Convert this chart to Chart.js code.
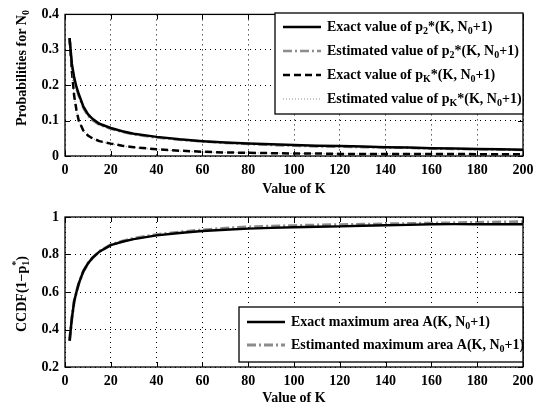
<!DOCTYPE html>
<html>
<head>
<meta charset="utf-8">
<script src="https://cdn.jsdelivr.net/npm/chart.js@4/dist/chart.umd.min.js"></script>
<style>
    body { margin: 0; background: #fff; width: 548px; height: 408px; overflow: hidden; }
    canvas { position: absolute; left: 0; }
    #topChart { top: 0; }
    #bottomChart { top: 200px; }
</style>
</head>
<body>
<canvas id="topChart" width="548" height="200"></canvas>
<canvas id="bottomChart" width="548" height="208"></canvas>
<script>
const kValues = [2, 3, 4, 5, 6, 8, 10, 12, 15, 20, 25, 30, 40, 50, 60, 70, 80, 90, 100, 110, 120, 130, 140, 150, 160, 170, 180, 190, 200];

// upper panel
const p2Exact = [0.333, 0.26, 0.222, 0.195, 0.175, 0.14, 0.118, 0.105, 0.091, 0.079, 0.07, 0.063, 0.054, 0.047, 0.042, 0.038, 0.035, 0.033, 0.031, 0.029, 0.028, 0.027, 0.025, 0.024, 0.022, 0.021, 0.02, 0.019, 0.018];
const p2Estimated = [0.33, 0.255, 0.215, 0.19, 0.17, 0.136, 0.114, 0.101, 0.088, 0.077, 0.068, 0.061, 0.052, 0.046, 0.041, 0.037, 0.034, 0.031, 0.029, 0.027, 0.026, 0.025, 0.024, 0.023, 0.021, 0.02, 0.019, 0.018, 0.017];
const pKExact = [0.333, 0.24, 0.17, 0.13, 0.1, 0.072, 0.058, 0.05, 0.042, 0.035, 0.029, 0.025, 0.019, 0.015, 0.012, 0.01, 0.009, 0.008, 0.007, 0.007, 0.006, 0.006, 0.006, 0.006, 0.006, 0.006, 0.005, 0.005, 0.005];
const pKEstimated = [0.333, 0.238, 0.168, 0.128, 0.099, 0.071, 0.057, 0.049, 0.041, 0.034, 0.028, 0.024, 0.018, 0.014, 0.011, 0.01, 0.009, 0.008, 0.007, 0.007, 0.006, 0.006, 0.006, 0.006, 0.006, 0.005, 0.005, 0.005, 0.005];

// lower panel
const areaExact = [0.34, 0.46, 0.55, 0.6, 0.645, 0.71, 0.752, 0.782, 0.815, 0.85, 0.868, 0.882, 0.902, 0.915, 0.925, 0.932, 0.938, 0.942, 0.945, 0.948, 0.95, 0.953, 0.956, 0.958, 0.961, 0.962, 0.962, 0.962, 0.962];
const areaEstimated = [0.34, 0.46, 0.55, 0.6, 0.645, 0.71, 0.752, 0.782, 0.816, 0.852, 0.871, 0.886, 0.906, 0.92, 0.931, 0.94, 0.947, 0.951, 0.954, 0.957, 0.959, 0.961, 0.963, 0.965, 0.967, 0.969, 0.971, 0.973, 0.975];

const xTicks = [0, 20, 40, 60, 80, 100, 120, 140, 160, 180, 200];
const topYTicks = [0, 0.1, 0.2, 0.3, 0.4];
const bottomYTicks = [0.2, 0.4, 0.6, 0.8, 1];

const FONT = '"Liberation Serif", "Times New Roman", serif';
const GRAY = '#8c8c8c';

// text made of pieces with optional subscript / superscript
function partFont(size) { return `bold ${size}px ${FONT}`; }

function richWidth(ctx, parts, size) {
    let w = 0;
    parts.forEach(p => {
        ctx.font = partFont(size);
        if (p.t) w += ctx.measureText(p.t).width;
        ctx.font = partFont(Math.round(size * 0.72));
        const a = p.sub ? ctx.measureText(p.sub).width : 0;
        const b = p.sup ? ctx.measureText(p.sup).width : 0;
        w += Math.max(a, b);
    });
    return w;
}

function drawRich(ctx, parts, x, y, size) {
    ctx.textBaseline = 'middle';
    ctx.textAlign = 'left';
    ctx.fillStyle = '#000';
    parts.forEach(p => {
        ctx.font = partFont(size);
        if (p.t) {
            ctx.fillText(p.t, x, y);
            x += ctx.measureText(p.t).width;
        }
        const small = Math.round(size * 0.72);
        ctx.font = partFont(small);
        let w = 0;
        if (p.sub) {
            ctx.fillText(p.sub, x, y + size * 0.32);
            w = ctx.measureText(p.sub).width;
        }
        if (p.sup) {
            ctx.fillText(p.sup, x, y - size * 0.38);
            w = Math.max(w, ctx.measureText(p.sup).width);
        }
        x += w;
    });
}

// MATLAB style box with inward ticks on all four sides
const framePlugin = {
    id: 'frame',
    afterDraw(chart) {
        const { ctx, chartArea: a, scales } = chart;
        ctx.save();
        ctx.strokeStyle = '#000';
        ctx.lineWidth = 1.3;
        ctx.strokeRect(a.left, a.top, a.right - a.left, a.bottom - a.top);
        ctx.lineWidth = 1;
        ctx.beginPath();
        scales.x.ticks.forEach(t => {
            const px = Math.round(scales.x.getPixelForValue(t.value)) + 0.5;
            ctx.moveTo(px, a.bottom); ctx.lineTo(px, a.bottom - 5);
            ctx.moveTo(px, a.top); ctx.lineTo(px, a.top + 5);
        });
        scales.y.ticks.forEach(t => {
            const py = Math.round(scales.y.getPixelForValue(t.value)) + 0.5;
            ctx.moveTo(a.left, py); ctx.lineTo(a.left + 5, py);
            ctx.moveTo(a.right, py); ctx.lineTo(a.right - 5, py);
        });
        ctx.stroke();

        const o = chart.options.plugins.frame;
        // axis titles
        ctx.font = partFont(14);
        ctx.textAlign = 'center';
        ctx.textBaseline = 'middle';
        ctx.fillStyle = '#000';
        ctx.fillText('Value of K', (a.left + a.right) / 2, o.xTitleY);

        const w = richWidth(ctx, o.yTitle, 14);
        ctx.save();
        ctx.translate(22, o.yTitleY);
        ctx.rotate(-Math.PI / 2);
        drawRich(ctx, o.yTitle, -w / 2, 0, 14);
        ctx.restore();

        // legend
        const L = o.legend;
        ctx.fillStyle = '#fff';
        ctx.fillRect(L.left, L.top, L.right - L.left, L.bottom - L.top);
        ctx.strokeStyle = '#000';
        ctx.lineWidth = 1.3;
        ctx.setLineDash([]);
        ctx.strokeRect(L.left, L.top, L.right - L.left, L.bottom - L.top);
        L.rows.forEach((y, i) => {
            const ds = chart.data.datasets[i];
            ctx.beginPath();
            ctx.strokeStyle = ds.borderColor;
            ctx.lineWidth = ds.borderWidth;
            ctx.setLineDash(ds.borderDash || []);
            ctx.moveTo(L.lineFrom, y);
            ctx.lineTo(L.lineTo, y);
            ctx.stroke();
            ctx.setLineDash([]);
            drawRich(ctx, L.labels[i], L.textX, y, 14);
        });
        ctx.restore();
    }
};

function points(arr) {
    return kValues.map((k, i) => ({ x: k, y: arr[i] }));
}

function series(arr, color, width, dash) {
    return {
        data: points(arr),
        borderColor: color,
        borderWidth: width,
        borderDash: dash,
        pointRadius: 0,
        tension: 0,
        fill: false
    };
}

function axes(yTicks, xHeight) {
    const tickFont = { family: FONT, size: 14, weight: 'bold' };
    return {
        x: {
            type: 'linear',
            min: xTicks[0],
            max: xTicks[xTicks.length - 1],
            afterBuildTicks: s => { s.ticks = xTicks.map(v => ({ value: v })); },
            afterFit: s => { s.height = xHeight; },
            ticks: { color: '#000', font: tickFont, padding: 6, maxRotation: 0, callback: v => String(v) },
            grid: { color: '#000', lineWidth: 1, drawTicks: false },
            border: { display: false, dash: [1, 4] }
        },
        y: {
            min: yTicks[0],
            max: yTicks[yTicks.length - 1],
            afterBuildTicks: s => { s.ticks = yTicks.map(v => ({ value: v })); },
            afterFit: s => { s.width = 65; },
            ticks: { color: '#000', font: tickFont, padding: 6, callback: v => String(+v.toFixed(1)) },
            grid: { color: '#000', lineWidth: 1, drawTicks: false },
            border: { display: false, dash: [1, 4] }
        }
    };
}

new Chart(document.getElementById('topChart'), {
    type: 'line',
    data: {
        datasets: [
            series(p2Exact, '#000', 2.5, []),
            series(p2Estimated, GRAY, 2.5, [9, 3, 2, 3]),
            series(pKExact, '#000', 2.5, [7, 4]),
            series(pKEstimated, GRAY, 1, [1, 2])
        ]
    },
    options: {
        responsive: false,
        animation: false,
        layout: { padding: { top: 7, right: 25, left: 0, bottom: 0 } },
        scales: axes(topYTicks, 44),
        plugins: {
            legend: { display: false },
            tooltip: { enabled: false },
            frame: {
                xTitleY: 189,
                yTitleY: 68,
                yTitle: [{ t: 'Probabilities for N', sub: '0' }],
                legend: {
                    left: 275, top: 13, right: 523, bottom: 114,
                    rows: [27, 51, 75, 99],
                    lineFrom: 283, lineTo: 321, textX: 327,
                    labels: [
                        [{ t: 'Exact value of p', sub: '2' }, { t: '*(K, N', sub: '0' }, { t: '+1)' }],
                        [{ t: 'Estimated value of p', sub: '2' }, { t: '*(K, N', sub: '0' }, { t: '+1)' }],
                        [{ t: 'Exact value of p', sub: 'K' }, { t: '*(K, N', sub: '0' }, { t: '+1)' }],
                        [{ t: 'Estimated value of p', sub: 'K' }, { t: '*(K, N', sub: '0' }, { t: '+1)' }]
                    ]
                }
            }
        }
    },
    plugins: [framePlugin]
});

new Chart(document.getElementById('bottomChart'), {
    type: 'line',
    data: {
        datasets: [
            series(areaExact, '#000', 2.5, []),
            series(areaEstimated, GRAY, 3, [9, 3, 2, 3])
        ]
    },
    options: {
        responsive: false,
        animation: false,
        layout: { padding: { top: 17, right: 25, left: 0, bottom: 0 } },
        scales: axes(bottomYTicks, 41),
        plugins: {
            legend: { display: false },
            tooltip: { enabled: false },
            frame: {
                xTitleY: 198,
                yTitleY: 94,
                yTitle: [{ t: 'CCDF(1\u2212p', sub: '1', sup: '*' }, { t: ')' }],
                legend: {
                    left: 239, top: 107, right: 523, bottom: 162,
                    rows: [122, 145],
                    lineFrom: 247, lineTo: 285, textX: 291,
                    labels: [
                        [{ t: 'Exact maximum area A(K, N', sub: '0' }, { t: '+1)' }],
                        [{ t: 'Estimanted maximum area A(K, N', sub: '0' }, { t: '+1)' }]
                    ]
                }
            }
        }
    },
    plugins: [framePlugin]
});
</script>
</body>
</html>
